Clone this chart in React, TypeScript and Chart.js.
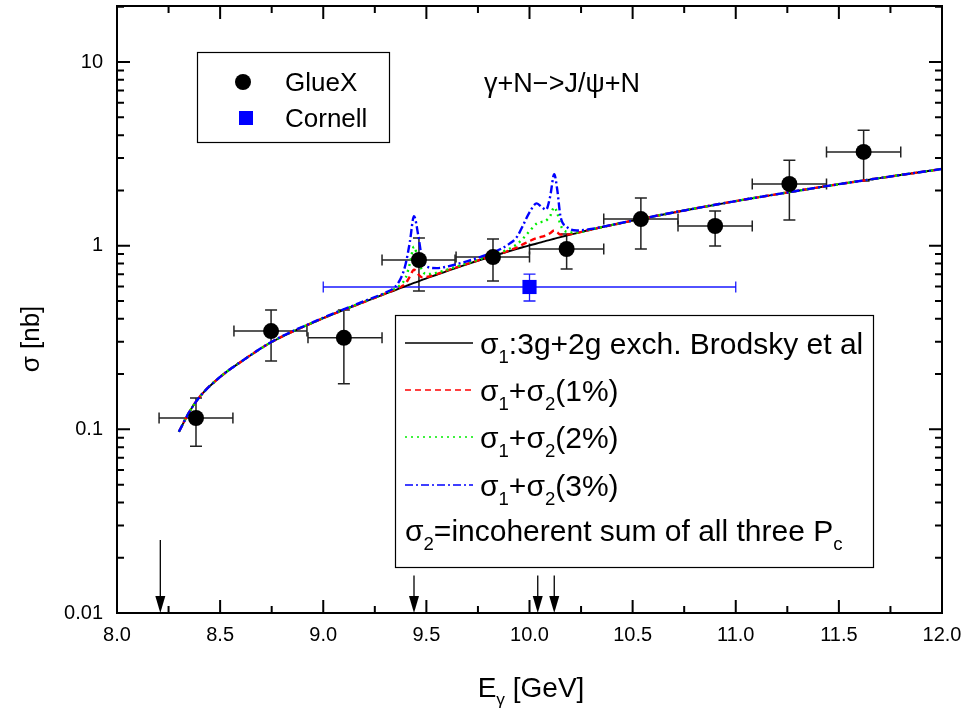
import React, { useEffect, useRef } from 'react';
import { Chart, registerables } from 'chart.js';

Chart.register(...registerables);

// ---------- data ----------
const E_GRID = [
  8.30, 8.35, 8.40, 8.50, 8.60, 8.75, 9.00, 9.20, 9.30, 9.35, 9.38, 9.40, 9.42, 9.44, 9.46, 9.48, 9.50,
  9.55, 9.60, 9.70, 9.80, 9.86, 9.90, 9.94, 9.97, 10.00, 10.035, 10.06, 10.08, 10.10, 10.12, 10.135,
  10.15, 10.18, 10.23, 10.30, 10.40, 10.55, 10.75, 11.00, 11.25, 11.50, 11.75, 12.00,
];
const SIGMA1 = [
  0.097, 0.124, 0.150, 0.193, 0.233, 0.299, 0.403, 0.495, 0.547, 0.574, 0.592, 0.603, 0.615, 0.627, 0.638, 0.652, 0.664,
  0.695, 0.728, 0.794, 0.863, 0.904, 0.933, 0.961, 0.984, 1.005, 1.028, 1.047, 1.062, 1.076, 1.091, 1.103,
  1.114, 1.135, 1.172, 1.225, 1.297, 1.406, 1.556, 1.750, 1.950, 2.163, 2.382, 2.618,
];
const SIGMA_1PCT = [
  0.097, 0.124, 0.150, 0.193, 0.233, 0.299, 0.403, 0.495, 0.548, 0.578, 0.600, 0.625, 0.680, 0.740, 0.700, 0.672, 0.675,
  0.700, 0.733, 0.798, 0.866, 0.905, 0.940, 0.980, 1.020, 1.060, 1.100, 1.120, 1.140, 1.170, 1.210, 1.180,
  1.150, 1.150, 1.175, 1.226, 1.297, 1.406, 1.556, 1.750, 1.950, 2.163, 2.382, 2.618,
];
const SIGMA_2PCT = [
  0.097, 0.124, 0.150, 0.193, 0.233, 0.299, 0.404, 0.497, 0.550, 0.585, 0.620, 0.670, 0.800, 0.990, 0.840, 0.730, 0.700,
  0.712, 0.740, 0.805, 0.875, 0.920, 0.960, 1.020, 1.100, 1.200, 1.320, 1.350, 1.370, 1.450, 1.620, 1.500,
  1.300, 1.190, 1.180, 1.228, 1.298, 1.406, 1.556, 1.750, 1.950, 2.163, 2.382, 2.618,
];
const SIGMA_3PCT = [
  0.097, 0.124, 0.150, 0.193, 0.233, 0.300, 0.405, 0.500, 0.555, 0.600, 0.680, 0.800, 1.050, 1.450, 1.150, 0.840, 0.770,
  0.755, 0.770, 0.825, 0.900, 0.960, 1.020, 1.120, 1.300, 1.520, 1.700, 1.620, 1.570, 1.850, 2.450, 2.000,
  1.450, 1.270, 1.210, 1.235, 1.300, 1.408, 1.556, 1.750, 1.950, 2.163, 2.382, 2.618,
];

const GLUEX_E = [8.383, 8.747, 9.10, 9.464, 9.823, 10.18, 10.54, 10.90, 11.26, 11.62];
const GLUEX_SIGMA = [0.1153, 0.343, 0.315, 0.836, 0.867, 0.96, 1.397, 1.28, 2.17, 3.24];
const GLUEX_E_LO = [8.204, 8.567, 8.926, 9.285, 9.644, 10.0, 10.36, 10.72, 11.08, 11.44];
const GLUEX_E_HI = [8.562, 8.921, 9.285, 9.639, 10.0, 10.36, 10.72, 11.08, 11.44, 11.80];
const GLUEX_SIGMA_LO = [0.081, 0.236, 0.177, 0.567, 0.643, 0.746, 0.96, 0.995, 1.38, 2.25];
const GLUEX_SIGMA_HI = [0.148, 0.447, 0.447, 1.10, 1.087, 1.158, 1.82, 1.545, 2.92, 4.26];

const CORNELL_E = [10.0];
const CORNELL_SIGMA = [0.596];
const CORNELL_E_LO = [9.0];
const CORNELL_E_HI = [11.0];
const CORNELL_SIGMA_LO = [0.50];
const CORNELL_SIGMA_HI = [0.70];

// thresholds: J/psi N and the three Pc states
const ARROW_E = [8.21, 9.44, 10.04, 10.12];
const ARROW_TOP = [0.025, 0.016, 0.016, 0.016];

const X_TICKS = [8.0, 8.5, 9.0, 9.5, 10.0, 10.5, 11.0, 11.5, 12.0];
const X_TICK_LABELS = ['8.0', '8.5', '9.0', '9.5', '10.0', '10.5', '11.0', '11.5', '12.0'];
const X_MINOR = [8.25, 8.75, 9.25, 9.75, 10.25, 10.75, 11.25, 11.75];
const Y_TICKS = [0.01, 0.1, 1, 10];
const Y_TICK_LABELS = ['0.01', '0.1', '1', '10'];
const Y_MINOR = [
  0.02, 0.03, 0.04, 0.05, 0.06, 0.07, 0.08, 0.09,
  0.2, 0.3, 0.4, 0.5, 0.6, 0.7, 0.8, 0.9,
  2, 3, 4, 5, 6, 7, 8, 9,
  20,
];

const FONT = '"Liberation Sans", Arial, Helvetica, sans-serif';

type Seg = { t: string; sub?: boolean };

function drawRich(ctx: CanvasRenderingContext2D, segs: Seg[], x: number, y: number, size: number, align: 'left' | 'center' = 'left') {
  const subSize = size * 0.62;
  let total = 0;
  for (const s of segs) {
    ctx.font = `${s.sub ? subSize : size}px ${FONT}`;
    total += ctx.measureText(s.t).width;
  }
  let cx = align === 'center' ? x - total / 2 : x;
  ctx.textAlign = 'left';
  ctx.textBaseline = 'alphabetic';
  for (const s of segs) {
    ctx.font = `${s.sub ? subSize : size}px ${FONT}`;
    ctx.fillText(s.t, cx, s.sub ? y + size * 0.3 : y);
    cx += ctx.measureText(s.t).width;
  }
}

const decorPlugin = {
  id: 'decor',
  beforeDatasetsDraw(chart: any) {
    const ctx: CanvasRenderingContext2D = chart.ctx;
    const xs = chart.scales.x;
    const ys = chart.scales.y;
    const bars = (E: number[], S: number[], ELo: number[], EHi: number[], SLo: number[], SHi: number[], color: string, lw: number) => {
      ctx.save();
      ctx.strokeStyle = color;
      ctx.lineWidth = lw;
      for (let i = 0; i < E.length; i++) {
        const px = xs.getPixelForValue(E[i]);
        const py = ys.getPixelForValue(S[i]);
        const x0 = xs.getPixelForValue(ELo[i]);
        const x1 = xs.getPixelForValue(EHi[i]);
        const y0 = ys.getPixelForValue(SLo[i]);
        const y1 = ys.getPixelForValue(SHi[i]);
        ctx.beginPath();
        ctx.moveTo(x0, py); ctx.lineTo(x1, py);
        ctx.moveTo(x0, py - 5.5); ctx.lineTo(x0, py + 5.5);
        ctx.moveTo(x1, py - 5.5); ctx.lineTo(x1, py + 5.5);
        ctx.moveTo(px, y0); ctx.lineTo(px, y1);
        ctx.moveTo(px - 6, y0); ctx.lineTo(px + 6, y0);
        ctx.moveTo(px - 6, y1); ctx.lineTo(px + 6, y1);
        ctx.stroke();
      }
      ctx.restore();
    };
    bars(GLUEX_E, GLUEX_SIGMA, GLUEX_E_LO, GLUEX_E_HI, GLUEX_SIGMA_LO, GLUEX_SIGMA_HI, '#222', 1.5);
    bars(CORNELL_E, CORNELL_SIGMA, CORNELL_E_LO, CORNELL_E_HI, CORNELL_SIGMA_LO, CORNELL_SIGMA_HI, '#1a1aff', 1.3);
  },
  afterDatasetsDraw(chart: any) {
    const ctx: CanvasRenderingContext2D = chart.ctx;
    const xs = chart.scales.x;
    const ys = chart.scales.y;
    const { left, right, top, bottom } = chart.chartArea;
    ctx.save();
    ctx.fillStyle = '#000';
    ctx.strokeStyle = '#000';

    // arrows
    ctx.lineWidth = 1.3;
    const yBase = ys.getPixelForValue(0.01);
    for (let i = 0; i < ARROW_E.length; i++) {
      const ax = xs.getPixelForValue(ARROW_E[i]);
      const at = ys.getPixelForValue(ARROW_TOP[i]);
      ctx.beginPath();
      ctx.moveTo(ax, at); ctx.lineTo(ax, yBase - 14);
      ctx.stroke();
      ctx.beginPath();
      ctx.moveTo(ax - 5, yBase - 17);
      ctx.lineTo(ax + 5, yBase - 17);
      ctx.lineTo(ax, yBase);
      ctx.closePath();
      ctx.fill();
    }

    // frame
    ctx.lineWidth = 2;
    ctx.strokeRect(left, top, right - left, bottom - top);

    // inward ticks
    ctx.lineWidth = 2;
    ctx.beginPath();
    const xt = (v: number, len: number) => {
      const p = xs.getPixelForValue(v);
      ctx.moveTo(p, bottom); ctx.lineTo(p, bottom - len);
      ctx.moveTo(p, top); ctx.lineTo(p, top + len);
    };
    X_TICKS.forEach((v) => xt(v, 13));
    X_MINOR.forEach((v) => xt(v, 7));
    const yt = (v: number, len: number) => {
      const p = ys.getPixelForValue(v);
      if (p < top - 0.5) return;
      ctx.moveTo(left, p); ctx.lineTo(left + len, p);
      ctx.moveTo(right, p); ctx.lineTo(right - len, p);
    };
    Y_TICKS.forEach((v) => yt(v, 13));
    Y_MINOR.forEach((v) => yt(v, 7));
    ctx.stroke();

    // legend 1
    ctx.lineWidth = 1.2;
    ctx.strokeStyle = '#000';
    ctx.fillStyle = '#fff';
    ctx.fillRect(197, 52, 192, 90);
    ctx.strokeRect(197.5, 52.5, 192, 90);
    ctx.fillStyle = '#000';
    ctx.beginPath();
    ctx.arc(243, 82, 8, 0, Math.PI * 2);
    ctx.fill();
    ctx.fillStyle = '#0000ff';
    ctx.fillRect(239, 111, 14, 14);
    ctx.fillStyle = '#000';
    drawRich(ctx, [{ t: 'GlueX' }], 285, 91, 26);
    drawRich(ctx, [{ t: 'Cornell' }], 285, 127, 26);

    // reaction label
    drawRich(ctx, [{ t: 'γ+N−>J/ψ+N' }], 562, 92, 27, 'center');

    // legend 2
    ctx.fillStyle = '#fff';
    ctx.fillRect(395, 315, 478, 252);
    ctx.strokeStyle = '#000';
    ctx.lineWidth = 1.2;
    ctx.strokeRect(395.5, 315.5, 478, 252);
    const lineRow = (y: number, color: string, dash: number[]) => {
      ctx.save();
      ctx.strokeStyle = color;
      ctx.lineWidth = 1.6;
      ctx.setLineDash(dash);
      ctx.beginPath();
      ctx.moveTo(405, y); ctx.lineTo(473, y);
      ctx.stroke();
      ctx.restore();
    };
    lineRow(343, '#000', []);
    lineRow(390, '#ff0000', [6, 4]);
    lineRow(437, '#00ee00', [2, 4]);
    lineRow(485, '#0000ff', [8, 3, 2, 3]);
    ctx.fillStyle = '#000';
    drawRich(ctx, [{ t: 'σ' }, { t: '1', sub: true }, { t: ':3g+2g exch. Brodsky et al' }], 480, 354, 30);
    drawRich(ctx, [{ t: 'σ' }, { t: '1', sub: true }, { t: '+σ' }, { t: '2', sub: true }, { t: '(1%)' }], 480, 401, 30);
    drawRich(ctx, [{ t: 'σ' }, { t: '1', sub: true }, { t: '+σ' }, { t: '2', sub: true }, { t: '(2%)' }], 480, 448, 30);
    drawRich(ctx, [{ t: 'σ' }, { t: '1', sub: true }, { t: '+σ' }, { t: '2', sub: true }, { t: '(3%)' }], 480, 496, 30);
    drawRich(ctx, [{ t: 'σ' }, { t: '2', sub: true }, { t: '=incoherent sum of all three P' }, { t: 'c', sub: true }], 405, 541, 30);

    // axis titles
    drawRich(ctx, [{ t: 'E' }, { t: 'γ', sub: true }, { t: ' [GeV]' }], 531, 697, 28, 'center');
    ctx.save();
    ctx.translate(39, 339);
    ctx.rotate(-Math.PI / 2);
    drawRich(ctx, [{ t: 'σ [nb]' }], 0, 0, 26, 'center');
    ctx.restore();

    ctx.restore();
  },
};

export default function App() {
  const ref = useRef<HTMLCanvasElement | null>(null);
  useEffect(() => {
    if (!ref.current) return;
    const pts = (xs: number[], ys: number[]) => xs.map((x, i) => ({ x, y: ys[i] }));
    const curve = (label: string, ys: number[], color: string, dash: number[], width: number) => ({
      type: 'line' as const,
      label,
      data: pts(E_GRID, ys),
      borderColor: color,
      borderWidth: width,
      borderDash: dash,
      pointRadius: 0,
      fill: false,
      cubicInterpolationMode: 'monotone' as const,
    });
    const chart = new Chart(ref.current, {
      type: 'line',
      data: {
        datasets: [
          {
            type: 'scatter',
            label: 'GlueX',
            data: pts(GLUEX_E, GLUEX_SIGMA),
            pointStyle: 'circle',
            pointRadius: 8,
            backgroundColor: '#000',
            borderColor: '#000',
            borderWidth: 0,
            showLine: false,
          } as any,
          {
            type: 'scatter',
            label: 'Cornell',
            data: pts(CORNELL_E, CORNELL_SIGMA),
            pointStyle: 'rect',
            pointRadius: 10,
            backgroundColor: '#0000ff',
            borderColor: '#0000ff',
            borderWidth: 0,
            showLine: false,
          } as any,
          curve('σ1+σ2(3%)', SIGMA_3PCT, '#0000ff', [8, 3, 2, 3], 2.4),
          curve('σ1+σ2(2%)', SIGMA_2PCT, '#00ee00', [2, 4], 2.4),
          curve('σ1+σ2(1%)', SIGMA_1PCT, '#ff0000', [6, 4], 2.4),
          curve('σ1', SIGMA1, '#000000', [], 1.9),
        ],
      },
      options: {
        animation: false,
        responsive: false,
        events: [],
        layout: { autoPadding: false, padding: { top: 6, right: 27, left: 0, bottom: 0 } },
        plugins: { legend: { display: false }, tooltip: { enabled: false } },
        scales: {
          x: {
            type: 'linear',
            min: 8,
            max: 12,
            afterBuildTicks: (s: any) => { s.ticks = X_TICKS.map((v) => ({ value: v })); },
            afterFit: (s: any) => { s.height = 96; s.paddingLeft = 0; s.paddingRight = 0; },
            ticks: {
              callback: (_v: any, i: number) => X_TICK_LABELS[i],
              font: { family: FONT, size: 20 },
              color: '#000',
              padding: 10,
              maxRotation: 0,
              autoSkip: false,
            },
            grid: { display: false, drawTicks: false },
            border: { display: false },
          },
          y: {
            type: 'logarithmic',
            min: 0.01,
            max: 20.2,
            afterBuildTicks: (s: any) => { s.ticks = Y_TICKS.map((v) => ({ value: v })); },
            afterFit: (s: any) => { s.width = 117; s.paddingTop = 0; s.paddingBottom = 0; },
            ticks: {
              callback: (_v: any, i: number) => Y_TICK_LABELS[i],
              font: { family: FONT, size: 20 },
              color: '#000',
              padding: 14,
              autoSkip: false,
            },
            grid: { display: false, drawTicks: false },
            border: { display: false },
          },
        },
      },
      plugins: [decorPlugin],
    } as any);
    return () => chart.destroy();
  }, []);
  return (
    <div style={{ position: 'absolute', left: 0, top: 0, width: 969, height: 709, background: '#fff' }}>
      <canvas ref={ref} width={969} height={709} style={{ width: 969, height: 709, display: 'block' }} />
    </div>
  );
}
